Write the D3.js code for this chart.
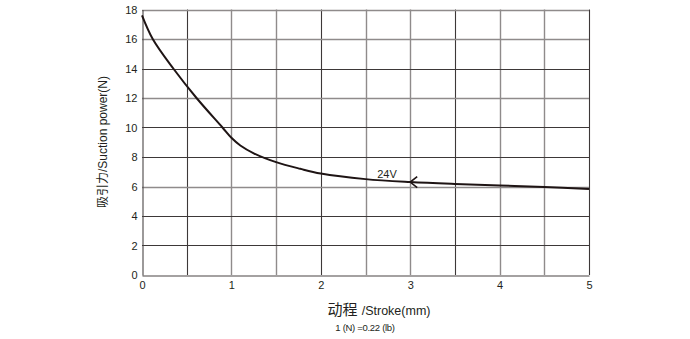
<!DOCTYPE html>
<html><head><meta charset="utf-8">
<script src="https://cdn.jsdelivr.net/npm/d3@7"></script>
<style>body{margin:0;background:#fff}svg{display:block}text{font-family:"Liberation Sans",Arial,"Noto Sans CJK SC",sans-serif;fill:#231f20}</style>
</head><body><svg id="c" width="690" height="339"></svg>
<script>
const strokeMm = [0, 0.12, 0.35, 0.61, 0.9, 1.0, 1.1, 1.25, 1.5, 1.77, 2.0, 2.5, 3.0, 3.5, 4.0, 4.5, 5.0];
const forceN   = [17.6, 16.0, 14.0, 12.0, 10.0, 9.3, 8.78, 8.25, 7.65, 7.2, 6.88, 6.5, 6.3, 6.17, 6.07, 5.97, 5.83];
const xTicks = [0, 1, 2, 3, 4, 5];
const yTicks = [0, 2, 4, 6, 8, 10, 12, 14, 16, 18];
const xGrid = [0.5, 1, 1.5, 2, 2.5, 3, 3.5, 4, 4.5, 5];
const xGridDark = [true, false, false, true, false, false, true, false, false, true];
const yGrid = [2, 4, 6, 8, 10, 12, 14, 16, 18];
const yGridDark = [true, true, false, true, true, false, true, false, false];
const seriesLabel = "24V";
const arrowAt = 3.0;

const svg = d3.select("#c");
const x = d3.scaleLinear().domain([0, 5]).range([142, 589]);
const y = d3.scaleLinear().domain([0, 18]).range([275, 9.5]);

const g = svg.append("g");
xGrid.forEach((v, i) => {
  g.append("line").attr("x1", Math.round(x(v)) + 0.5).attr("x2", Math.round(x(v)) + 0.5)
    .attr("y1", y(0)).attr("y2", y(18))
    .attr("stroke", xGridDark[i] ? "#3d3838" : "#8f8b8b").attr("stroke-width", xGridDark[i] ? 1.1 : 1.4);
});
yGrid.forEach((v, i) => {
  g.append("line").attr("y1", Math.round(y(v)) + 0.5).attr("y2", Math.round(y(v)) + 0.5)
    .attr("x1", x(0)).attr("x2", x(5))
    .attr("stroke", yGridDark[i] ? "#3d3838" : "#8f8b8b").attr("stroke-width", yGridDark[i] ? 1.1 : 1.4);
});

// axes
const xAxis = d3.axisBottom(x).tickValues(xTicks).tickSize(0).tickPadding(6).tickFormat(d3.format("d"));
const yAxis = d3.axisLeft(y).tickValues(yTicks).tickSize(0).tickPadding(5).tickFormat(d3.format("d"));
const gx = svg.append("g").attr("transform", `translate(0,${Math.round(y(0)) + 0.5})`).call(xAxis);
const gy = svg.append("g").attr("transform", `translate(${Math.round(x(0)) + 0.5},0)`).call(yAxis);
[gx, gy].forEach(a => {
  a.select(".domain").attr("stroke", "#4a4545").attr("stroke-width", 1.1);
  a.selectAll("text").style("font-size", "11px").attr("fill", "#231f20");
});

// curve
svg.append("path")
  .datum(strokeMm.map((v, i) => [v, forceN[i]]))
  .attr("fill", "none").attr("stroke", "#1e1414").attr("stroke-width", 2)
  .attr("d", d3.line().x(d => x(d[0])).y(d => y(d[1])).curve(d3.curveCatmullRom.alpha(0.5)));

// arrow
const ay = y(d3.scaleLinear().domain(strokeMm).range(forceN)(arrowAt));
const ax = x(arrowAt);
svg.append("path").attr("fill", "none").attr("stroke", "#1e1414").attr("stroke-width", 1.6)
  .attr("d", `M${ax + 7},${ay - 5.5} L${ax},${ay} L${ax + 7},${ay + 5.5}`);
svg.append("text").attr("x", x(2.74)).attr("y", ay - 4.5).attr("text-anchor", "middle")
  .style("font-size", "11px").text(seriesLabel);

// titles
svg.append("text").attr("transform", `translate(107,142) rotate(-90)`).attr("text-anchor", "middle")
  .style("font-size", "12px").text("吸引力/Suction power(N)");
const xt = svg.append("text").attr("x", 379).attr("y", 315).attr("text-anchor", "middle");
xt.append("tspan").style("font-size", "15px").text("动程 ");
xt.append("tspan").style("font-size", "12.5px").text("/Stroke(mm)");
svg.append("text").attr("x", 365).attr("y", 331).attr("text-anchor", "middle")
  .style("font-size", "9.5px").style("letter-spacing", "-0.3px").text("1 (N) =0.22 (lb)");
</script></body></html>
